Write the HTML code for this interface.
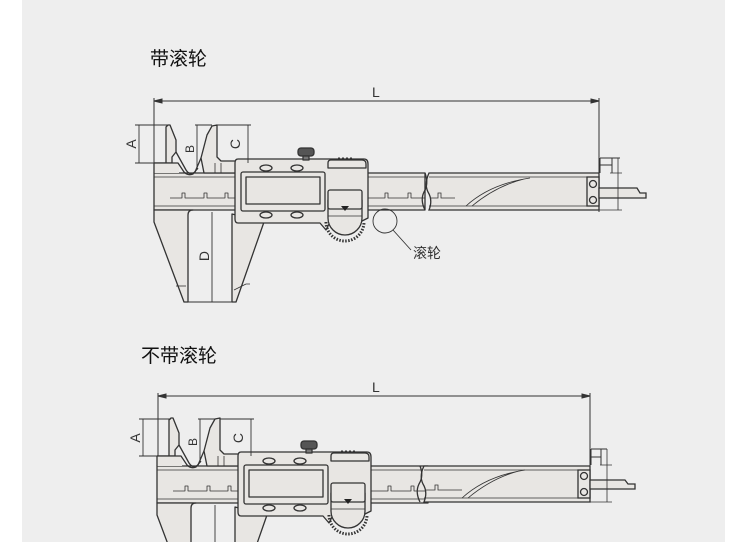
<!DOCTYPE html>
<html><head><meta charset="utf-8"><style>
html,body{margin:0;padding:0;background:#fff;width:750px;height:542px;overflow:hidden;}
svg{display:block;}
text{font-family:"Liberation Sans","Noto Sans CJK SC",sans-serif;}
</style></head><body>
<svg width="750" height="542" viewBox="0 0 750 542" xmlns="http://www.w3.org/2000/svg">
<rect x="0" y="0" width="750" height="542" fill="#ffffff"/>
<rect x="22" y="0" width="703" height="542" fill="#eeeeee"/>
<defs>
<g id="cal" fill="#e8e6e3" stroke="#333" stroke-width="1.3" stroke-linejoin="round">
  <rect x="154" y="173" width="271" height="37"/>
  <line x1="154" y1="177" x2="425" y2="177" stroke-width="0.8"/>
  <line x1="154" y1="206" x2="425" y2="206" stroke-width="0.8"/>
  <path d="M170,198 H182 V193 H185 V198 H204 V193 H207 V198 H225 V193 H228 V198 H240" fill="none" stroke-width="0.8"/>
  <path d="M368,198 H385 V193 H388 V198 H408 V193 H411 V198 H425" fill="none" stroke-width="0.8"/>
  <path d="M154,210 V222 L184,302 H188 V215 Q188,210 193,210 Z"/>
  <path d="M176,286 H186" fill="none" stroke-width="0.8"/>
  <path d="M232,214 V302 H236 L264,222 Z"/>
  <path d="M234,290 L246,284 H250" fill="none" stroke-width="0.8"/>
  <path d="M154,163 H172 V157 L176,152 V140 L170,125 H168 L166,127 V163"/>
  <rect x="154" y="163" width="25" height="10" stroke="none"/>
  <path d="M154,163 V173 M154,163 H178 L184,172 Q188,176 193,174 L198,168" fill="none"/>
  <path d="M176,152 L186,170 Q190,176 195,172 L201,158" fill="none"/>
  <path d="M201,158 L207,135 L212,126 L217,125 V157 L221,161 H236 V173 H204 Z"/>
  <path d="M215,163 V173 M221,163 V173" fill="none" stroke-width="0.8"/>
  <path d="M238,159 H364 Q368,159 368,164 V218 L360,222 H330 L326,230 L320,223 H238 Q235,223 235,219 V163 Q235,159 238,159 Z"/>
  <rect x="241" y="172" width="84" height="39" rx="2"/>
  <rect x="246" y="177" width="74" height="27" fill="#e8e6e3"/>
  <ellipse cx="266" cy="168" rx="6" ry="3"/>
  <ellipse cx="297" cy="168" rx="6" ry="3"/>
  <ellipse cx="266" cy="215" rx="6" ry="3"/>
  <ellipse cx="297" cy="215" rx="6" ry="3"/>
  <rect x="298" y="148" width="16" height="8" rx="3" fill="#555"/>
  <rect x="303" y="156" width="6" height="4" fill="#777"/>
  <path d="M328,168 V163 Q328,160 331,160 H362 Q366,160 366,164 V168 Z"/>
  <path d="M338,158 h2 m2,0 h2 m2,0 h2 m2,0 h2" stroke-width="1"/>
  <path d="M326,222 A19,19 0 0 0 364,222" fill="none" stroke-width="3" stroke-dasharray="1.5,1.5"/>
  <path d="M328,200 V218 A17,17 0 0 0 362,218 V200 Z"/>
  <rect x="328" y="190" width="34" height="19" rx="2"/>
  <line x1="328" y1="216" x2="362" y2="216" stroke-width="0.8"/>
  <polygon points="341,206 349,206 345,211" fill="#222" stroke="none"/>
</g>
</defs>

<text x="150" y="65" font-size="19" fill="#111">带滚轮</text>
<text x="141" y="362" font-size="19" fill="#111">不带滚轮</text>

<g stroke="#333" stroke-width="1" fill="none">
  <line x1="154" y1="101" x2="599" y2="101"/>
  <line x1="154" y1="98" x2="154" y2="173"/>
  <line x1="599" y1="98" x2="599" y2="212"/>
  <path d="M154,101 l8,-2 v4 z M599,101 l-8,-2 v4 z" fill="#333"/>
</g>
<text x="372" y="97" font-size="14" fill="#333">L</text>
<use href="#cal"/>
<g fill="#e8e6e3" stroke="#333" stroke-width="1.3">
  <path d="M429,173 H599 V210 H429 Q433,200 428,192 Q424,184 429,173 Z"/>
  <line x1="429" y1="177" x2="587" y2="177" stroke-width="0.8"/>
  <line x1="429" y1="206" x2="587" y2="206" stroke-width="0.8"/>
  <path d="M425,173 Q429,184 424,192 Q420,200 425,210" fill="none"/>
  <path d="M430,198 H438 V193 H441 V198 H455" fill="none" stroke-width="0.8"/>
  <path d="M466,206 Q490,184 530,178 M472,206 Q496,186 524,179" fill="none" stroke-width="0.8"/>
  <rect x="587" y="177" width="12" height="29"/>
  <circle cx="593" cy="184" r="3.5"/>
  <circle cx="593" cy="200" r="3.5"/>
  <path d="M599,188 H637 L640,193 H646 V198 H599 Z"/>
  <path d="M600,158 V173 M600,158 H620 M600,165 H612 M612,158 V173" fill="none" stroke-width="1"/>
  <path d="M618,158 V210 M599,210 H622 M610,173 H622" fill="none" stroke-width="0.8"/>
</g>
<g stroke="#333" stroke-width="0.9" fill="none">
  <line x1="139" y1="125" x2="139" y2="163"/><line x1="135" y1="125" x2="168" y2="125"/><line x1="135" y1="163" x2="154" y2="163"/>
  <line x1="197" y1="125" x2="197" y2="170"/><line x1="195" y1="125" x2="212" y2="125"/>
  <line x1="248" y1="125" x2="248" y2="163"/><line x1="217" y1="125" x2="251" y2="125"/>
  <line x1="212" y1="212" x2="212" y2="302"/><line x1="188" y1="302" x2="232" y2="302"/>
  <circle cx="385" cy="221" r="12"/>
  <line x1="393" y1="230" x2="411" y2="250"/>
</g>
<text transform="translate(136,144) rotate(-90)" font-size="14" fill="#333" text-anchor="middle">A</text>
<text transform="translate(194,149) rotate(-90)" font-size="12" fill="#333" text-anchor="middle">B</text>
<text transform="translate(240,144) rotate(-90)" font-size="14" fill="#333" text-anchor="middle">C</text>
<text transform="translate(209,256) rotate(-90)" font-size="14" fill="#333" text-anchor="middle">D</text>
<text x="413" y="258" font-size="14" fill="#333">滚轮</text>

<g stroke="#333" stroke-width="1" fill="none">
  <line x1="158" y1="396" x2="590" y2="396"/>
  <line x1="158" y1="393" x2="158" y2="466"/>
  <line x1="590" y1="393" x2="590" y2="502"/>
  <path d="M158,396 l8,-2 v4 z M590,396 l-8,-2 v4 z" fill="#333"/>
</g>
<text x="372" y="392" font-size="14" fill="#333">L</text>
<use href="#cal" transform="translate(3,293)"/>
<g fill="#e8e6e3" stroke="#333" stroke-width="1.3">
  <path d="M424,466 H590 V502 H424 Q428,492 423,484 Q419,476 424,466 Z"/>
  <line x1="424" y1="470" x2="578" y2="470" stroke-width="0.8"/>
  <line x1="424" y1="498" x2="578" y2="498" stroke-width="0.8"/>
  <path d="M420,466 Q424,476 419,484 Q415,492 420,502" fill="none"/>
  <path d="M425,490 H435 V485 H438 V490 H462" fill="none" stroke-width="0.8"/>
  <path d="M462,498 Q486,476 525,470 M468,498 Q492,478 519,471" fill="none" stroke-width="0.8"/>
  <rect x="578" y="470" width="12" height="28"/>
  <circle cx="584" cy="476" r="3.5"/>
  <circle cx="584" cy="492" r="3.5"/>
  <path d="M590,480 H625 L628,484 H635 V489 H590 Z"/>
  <path d="M591,449 V465 M591,449 H607 M591,457 H601 M601,449 V465" fill="none" stroke-width="1"/>
  <path d="M607,449 V502 M590,502 H612 M600,465 H612" fill="none" stroke-width="0.8"/>
</g>
<g stroke="#333" stroke-width="0.9" fill="none">
  <line x1="143" y1="419" x2="143" y2="456"/><line x1="139" y1="419" x2="171" y2="419"/><line x1="139" y1="456" x2="158" y2="456"/>
  <line x1="200" y1="419" x2="200" y2="463"/><line x1="198" y1="419" x2="215" y2="419"/>
  <line x1="251" y1="419" x2="251" y2="456"/><line x1="220" y1="419" x2="254" y2="419"/>
  <line x1="215" y1="505" x2="215" y2="542"/>
</g>
<text transform="translate(140,438) rotate(-90)" font-size="14" fill="#333" text-anchor="middle">A</text>
<text transform="translate(197,442) rotate(-90)" font-size="12" fill="#333" text-anchor="middle">B</text>
<text transform="translate(243,438) rotate(-90)" font-size="14" fill="#333" text-anchor="middle">C</text>
</svg>
</body></html>
